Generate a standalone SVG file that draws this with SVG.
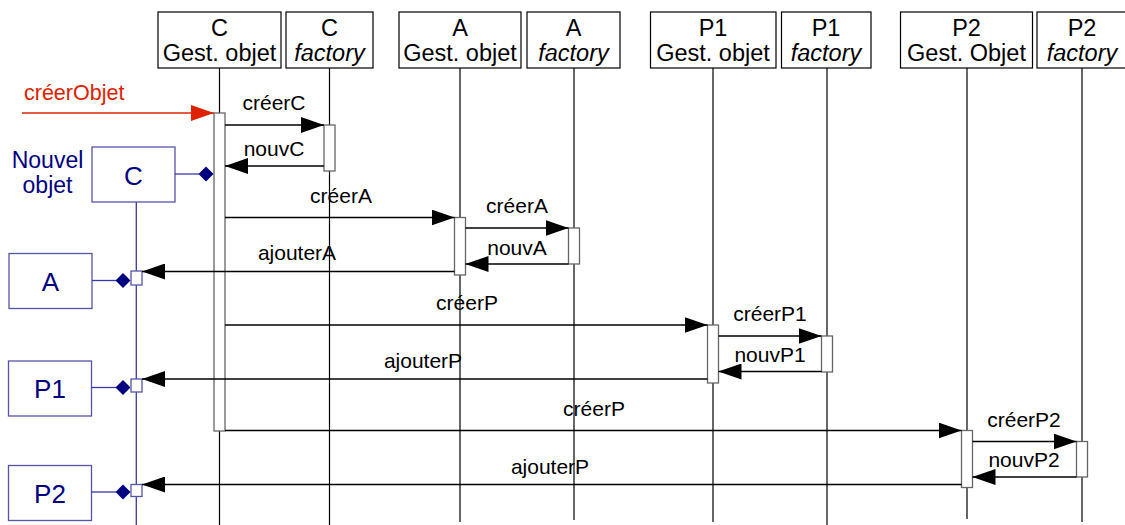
<svg xmlns="http://www.w3.org/2000/svg" width="1125" height="525" viewBox="0 0 1125 525">
<style>
text{font-family:"Liberation Sans",Arial,sans-serif;font-size:21px;fill:#000}
.mid{text-anchor:middle}
.h{font-size:23.5px}
.hdr{fill:#fff;stroke:#000;stroke-width:1.2}
.life{stroke:#000;stroke-width:1.2;fill:none}
.act{fill:#fff;stroke:#666;stroke-width:1.3}
.msg{stroke:#000;stroke-width:1.3;fill:none;marker-end:url(#ah)}
.red{stroke:#dd2200;stroke-width:1.3;fill:none;marker-end:url(#ahr)}
.obj{fill:#fff;stroke:#5555aa;stroke-width:1.3}
.bl{stroke:#3a3aa8;stroke-width:1.3;fill:none}
.nv{fill:#000080;font-size:23px}
.dia{fill:#000080}
.big{font-size:26px;fill:#000080;text-anchor:middle}
</style>
<defs>
<marker id="ah" markerUnits="userSpaceOnUse" markerWidth="23" markerHeight="16" refX="23" refY="8" orient="auto"><path d="M0,0 L23,8 L0,16 z" fill="#000"/></marker>
<marker id="ahr" markerUnits="userSpaceOnUse" markerWidth="23" markerHeight="16" refX="23" refY="8" orient="auto"><path d="M0,0 L23,8 L0,16 z" fill="#dd2200"/></marker>
</defs>

<g id="lifelines">
<line class="life" x1="219.5" y1="68" x2="219.5" y2="525"/>
<line class="life" x1="329.5" y1="68" x2="329.5" y2="525"/>
<line class="life" x1="460" y1="68" x2="460" y2="522"/>
<line class="life" x1="574" y1="68" x2="574" y2="520"/>
<line class="life" x1="713" y1="68" x2="713" y2="522"/>
<line class="life" x1="827" y1="68" x2="827" y2="525"/>
<line class="life" x1="967" y1="68" x2="967" y2="519"/>
<line class="life" x1="1082" y1="68" x2="1082" y2="522" stroke="#777"/>
</g>

<g id="node-C-gest">
<rect class="hdr" x="158" y="12" width="123" height="56"/>
<text class="mid h" x="219.5" y="36">C</text>
<text class="mid h" x="219.5" y="61">Gest. objet</text>
<rect class="act" x="214" y="113" width="11" height="318"/>
</g>
<g id="node-C-factory">
<rect class="hdr" x="286" y="12" width="87" height="56"/>
<text class="mid h" x="329.5" y="36">C</text>
<text class="mid h" x="329.5" y="61" font-style="italic">factory</text>
<rect class="act" x="324" y="125" width="11" height="46"/>
</g>
<g id="node-A-gest">
<rect class="hdr" x="399" y="12" width="122" height="56"/>
<text class="mid h" x="460" y="36">A</text>
<text class="mid h" x="460" y="61">Gest. objet</text>
<rect class="act" x="454.5" y="217.5" width="11" height="57.5"/>
</g>
<g id="node-A-factory">
<rect class="hdr" x="527" y="12" width="93" height="56"/>
<text class="mid h" x="573.5" y="36">A</text>
<text class="mid h" x="573.5" y="61" font-style="italic">factory</text>
<rect class="act" x="568.5" y="228" width="11" height="36"/>
</g>
<g id="node-P1-gest">
<rect class="hdr" x="650.5" y="12" width="125.5" height="56"/>
<text class="mid h" x="713" y="36">P1</text>
<text class="mid h" x="713" y="61">Gest. objet</text>
<rect class="act" x="707.5" y="325" width="11" height="58"/>
</g>
<g id="node-P1-factory">
<rect class="hdr" x="781.5" y="12" width="89.5" height="56"/>
<text class="mid h" x="826" y="36">P1</text>
<text class="mid h" x="826" y="61" font-style="italic">factory</text>
<rect class="act" x="821.5" y="336" width="11" height="36"/>
</g>
<g id="node-P2-gest">
<rect class="hdr" x="900.5" y="12" width="132" height="56"/>
<text class="mid h" x="966.5" y="36">P2</text>
<text class="mid h" x="966.5" y="61">Gest. Objet</text>
<rect class="act" x="961.5" y="430.5" width="11" height="57"/>
</g>
<g id="node-P2-factory">
<rect class="hdr" x="1037" y="12" width="90" height="56"/>
<text class="mid h" x="1082" y="36">P2</text>
<text class="mid h" x="1082" y="61" font-style="italic">factory</text>
<rect class="act" x="1076.5" y="441.5" width="11" height="35.5"/>
</g>

<g id="node-new-object">
<text class="nv mid" x="47.5" y="168">Nouvel</text>
<text class="nv mid" x="47.5" y="193">objet</text>
<line class="bl" x1="136.3" y1="202" x2="136.3" y2="525"/>
<rect class="obj" x="92" y="147" width="83" height="55"/>
<text class="big" x="133.5" y="185">C</text>
<line class="bl" x1="175" y1="174" x2="199" y2="174"/>
<path class="dia" d="M198.5,174 L206,166.5 L213.5,174 L206,181.5 z"/>
</g>
<g id="node-obj-A">
<rect class="obj" x="9" y="253.5" width="83" height="55"/>
<text class="big" x="50.5" y="291">A</text>
<line class="bl" x1="92" y1="280.5" x2="116" y2="280.5"/>
<path class="dia" d="M115.5,280.5 L123,273 L130.5,280.5 L123,288 z"/>
<rect class="obj" x="131" y="271" width="11" height="14"/>
</g>
<g id="node-obj-P1">
<rect class="obj" x="8.5" y="361" width="83" height="55"/>
<text class="big" x="50" y="398">P1</text>
<line class="bl" x1="91.5" y1="387.5" x2="116" y2="387.5"/>
<path class="dia" d="M115.5,387.5 L123,380 L130.5,387.5 L123,395 z"/>
<rect class="obj" x="131" y="379" width="11" height="13"/>
</g>
<g id="node-obj-P2">
<rect class="obj" x="8.5" y="465.5" width="83" height="55"/>
<text class="big" x="50" y="503">P2</text>
<line class="bl" x1="91.5" y1="492" x2="116" y2="492"/>
<path class="dia" d="M115.5,492 L123,484.5 L130.5,492 L123,499.5 z"/>
<rect class="obj" x="131" y="484.5" width="11" height="12"/>
</g>

<g id="connectors">
<line class="red" x1="22" y1="113" x2="214" y2="113"/>
<line class="msg" x1="225" y1="125" x2="324" y2="125"/>
<line class="msg" x1="324" y1="166" x2="225" y2="166"/>
<line class="msg" x1="225" y1="217.5" x2="454.5" y2="217.5"/>
<line class="msg" x1="465.5" y1="228" x2="568.5" y2="228"/>
<line class="msg" x1="568.5" y1="264" x2="465.5" y2="264"/>
<line class="msg" x1="454.5" y1="271.5" x2="142" y2="271.5"/>
<line class="msg" x1="225" y1="325" x2="707.5" y2="325"/>
<line class="msg" x1="718.5" y1="336" x2="821.5" y2="336"/>
<line class="msg" x1="821.5" y1="371.5" x2="718.5" y2="371.5"/>
<line class="msg" x1="707.5" y1="379" x2="142" y2="379"/>
<line class="msg" x1="225" y1="430.5" x2="961.5" y2="430.5"/>
<line class="msg" x1="972.5" y1="441.5" x2="1076.5" y2="441.5"/>
<line class="msg" x1="1076.5" y1="477" x2="972.5" y2="477"/>
<line class="msg" x1="961.5" y1="484.5" x2="142" y2="484.5"/>
</g>

<g id="labels">
<text x="24" y="100" style="fill:#dd2200;font-size:21.5px">créerObjet</text>
<text class="mid" x="274" y="110">créerC</text>
<text class="mid" x="274" y="156">nouvC</text>
<text class="mid" x="341" y="203">créerA</text>
<text class="mid" x="517" y="213">créerA</text>
<text class="mid" x="517" y="255">nouvA</text>
<text class="mid" x="297" y="260">ajouterA</text>
<text class="mid" x="467" y="310">créerP</text>
<text class="mid" x="770" y="321">créerP1</text>
<text class="mid" x="770" y="361.5">nouvP1</text>
<text class="mid" x="423" y="368">ajouterP</text>
<text class="mid" x="594" y="416">créerP</text>
<text class="mid" x="1024" y="426.5">créerP2</text>
<text class="mid" x="1024" y="466.5">nouvP2</text>
<text class="mid" x="550" y="474">ajouterP</text>
</g>
</svg>
